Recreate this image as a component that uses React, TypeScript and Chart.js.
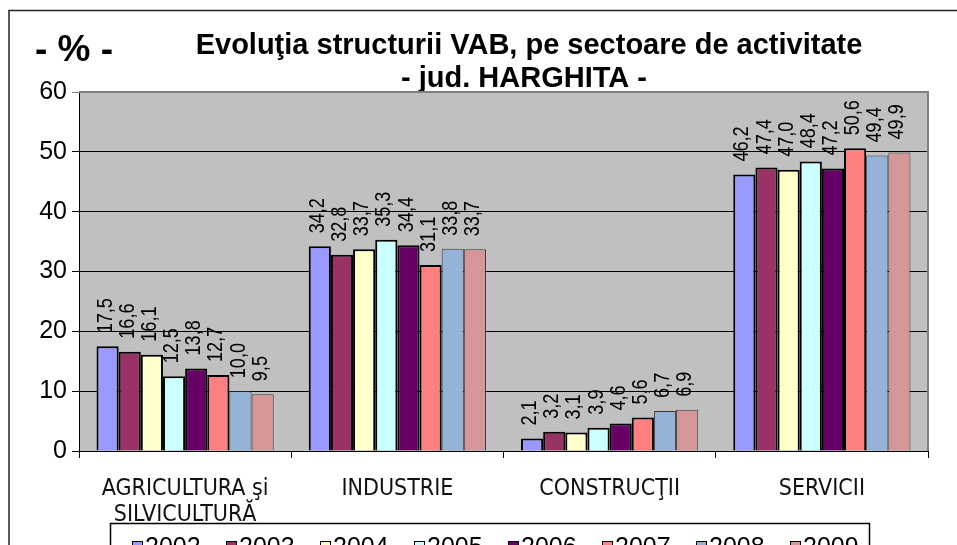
import React, { useEffect, useRef } from "react";
import { Chart, registerables } from "chart.js";

Chart.register(...registerables);

const categories: string[][] = [
  ["AGRICULTURA şi", "SILVICULTURĂ"],
  ["INDUSTRIE"],
  ["CONSTRUCŢII"],
  ["SERVICII"],
];

const years = ["2002", "2003", "2004", "2005", "2006", "2007", "2008", "2009"];

const v2002 = [17.5, 34.2, 2.1, 46.2];
const v2003 = [16.6, 32.8, 3.2, 47.4];
const v2004 = [16.1, 33.7, 3.1, 47.0];
const v2005 = [12.5, 35.3, 3.9, 48.4];
const v2006 = [13.8, 34.4, 4.6, 47.2];
const v2007 = [12.7, 31.1, 5.6, 50.6];
const v2008 = [10.0, 33.8, 6.7, 49.4];
const v2009 = [9.5, 33.7, 6.9, 49.9];

const seriesValues = [v2002, v2003, v2004, v2005, v2006, v2007, v2008, v2009];
const seriesColors = ["#9999FF", "#993366", "#FFFFCC", "#CCFFFF", "#660066", "#FF8080", "#95B3D7", "#D49696"];
const yTicks = [0, 10, 20, 30, 40, 50, 60];

const titleLine1 = "Evoluţia structurii VAB, pe sectoare de activitate";
const titleLine2 = "- jud. HARGHITA -";
const unitLabel = "- % -";

const ARIAL = "'Liberation Sans', Arial, sans-serif";
const NARROW = "'Liberation Sans Narrow', 'DejaVu Sans Condensed', sans-serif";

const fmt = (v: number) => v.toFixed(1).replace(".", ",");

const decorPlugin = {
  id: "decor",
  beforeDraw(chart: any) {
    const { ctx, chartArea } = chart;
    ctx.save();
    ctx.fillStyle = "#FFFFFF";
    ctx.fillRect(0, 0, chart.width, chart.height);
    ctx.fillStyle = "#C0C0C0";
    ctx.fillRect(chartArea.left, chartArea.top, chartArea.right - chartArea.left, chartArea.bottom - chartArea.top);
    // outer frame
    ctx.strokeStyle = "#222";
    ctx.lineWidth = 1.5;
    ctx.beginPath();
    ctx.moveTo(9, chart.height);
    ctx.lineTo(9, 10.5);
    ctx.lineTo(chart.width, 10.5);
    ctx.stroke();
    // titles
    ctx.fillStyle = "#000";
    ctx.textBaseline = "middle";
    ctx.font = `bold 37px ${ARIAL}`;
    ctx.textAlign = "left";
    ctx.fillText(unitLabel, 35, 51);
    ctx.font = `bold 29px ${ARIAL}`;
    ctx.textAlign = "center";
    ctx.fillText(titleLine1, 529, 46);
    ctx.fillText(titleLine2, 524, 79);
    ctx.restore();
  },
  beforeDatasetsDraw(chart: any) {
    const { ctx, chartArea } = chart;
    ctx.save();
    ctx.strokeStyle = "#808080";
    ctx.lineWidth = 2;
    ctx.beginPath();
    ctx.moveTo(chartArea.left, chartArea.top);
    ctx.lineTo(chartArea.right, chartArea.top);
    ctx.lineTo(chartArea.right, chartArea.bottom);
    ctx.stroke();
    ctx.restore();
  },
  afterDatasetsDraw(chart: any) {
    const { ctx } = chart;
    ctx.save();
    ctx.fillStyle = "#000";
    ctx.font = `22px ${ARIAL}`;
    ctx.textAlign = "left";
    ctx.textBaseline = "middle";
    chart.data.datasets.forEach((ds: any, i: number) => {
      const meta = chart.getDatasetMeta(i);
      meta.data.forEach((el: any, j: number) => {
        ctx.save();
        ctx.translate(el.x - 2, el.y - 13);
        ctx.rotate(-Math.PI / 2);
        ctx.scale(0.82, 1);
        ctx.fillText(fmt(ds.data[j]), 0, 0);
        ctx.restore();
      });
    });
    ctx.restore();
  },
  afterDraw(chart: any) {
    const { ctx } = chart;
    ctx.save();
    ctx.strokeStyle = "#000";
    ctx.lineWidth = 1.5;
    ctx.strokeRect(110.5, 523.5, 870 - 111, 60);
    ctx.font = `25px ${ARIAL}`;
    ctx.textBaseline = "top";
    ctx.textAlign = "left";
    chart.data.datasets.forEach((ds: any, i: number) => {
      const x = 132 + i * 94;
      ctx.fillStyle = ds.backgroundColor;
      ctx.fillRect(x, 541, 11, 11);
      ctx.strokeStyle = "#000";
      ctx.lineWidth = 1;
      ctx.strokeRect(x + 0.5, 541.5, 10, 10);
      ctx.fillStyle = "#000";
      ctx.fillText(ds.label, x + 13, 536);
    });
    ctx.restore();
  },
};

export default function App() {
  const ref = useRef<HTMLCanvasElement | null>(null);
  useEffect(() => {
    if (!ref.current) return;
    const chart = new Chart(ref.current, {
      type: "bar",
      data: {
        labels: categories,
        datasets: years.map((y, i) => ({
          label: y,
          data: seriesValues[i],
          backgroundColor: seriesColors[i],
          borderColor: i < 6 ? "#000000" : "#3a3a3a",
          borderWidth: i < 6 ? 2 : 1,
          categoryPercentage: 0.835,
          barPercentage: 1.0,
        })),
      },
      options: {
        responsive: false,
        animation: false,
        devicePixelRatio: 1,
        layout: { padding: { top: 92, right: 29, left: 0, bottom: 0 } },
        plugins: {
          legend: { display: false },
          title: { display: false },
          tooltip: { enabled: false },
        },
        scales: {
          x: {
            afterFit: (s: any) => { s.height = 94; },
            grid: { display: true, drawOnChartArea: false, drawTicks: true, tickLength: 7, color: "#000", offset: true },
            border: { display: true, color: "#000", width: 1 },
            ticks: {
              color: "#111",
              font: { family: NARROW, size: 23, lineHeight: 1.13 },
              padding: 18,
              maxRotation: 0,
              autoSkip: false,
            },
          },
          y: {
            min: 0,
            max: 60,
            afterFit: (s: any) => { s.width = 79; },
            afterBuildTicks: (s: any) => { s.ticks = yTicks.map((v) => ({ value: v })); },
            grid: {
              color: (c: any) => (c.tick && c.tick.value === 60 ? "#808080" : "#000"),
              lineWidth: 1,
              tickLength: 7,
            },
            border: { display: true, color: "#000", width: 1 },
            ticks: {
              color: "#000",
              font: { family: ARIAL, size: 25 },
              padding: 5,
            },
          },
        },
      },
      plugins: [decorPlugin],
    });
    return () => chart.destroy();
  }, []);
  return (
    <div style={{ position: "absolute", left: 0, top: 0, width: 957, height: 545 }}>
      <canvas ref={ref} width={957} height={545} style={{ display: "block" }} />
    </div>
  );
}
